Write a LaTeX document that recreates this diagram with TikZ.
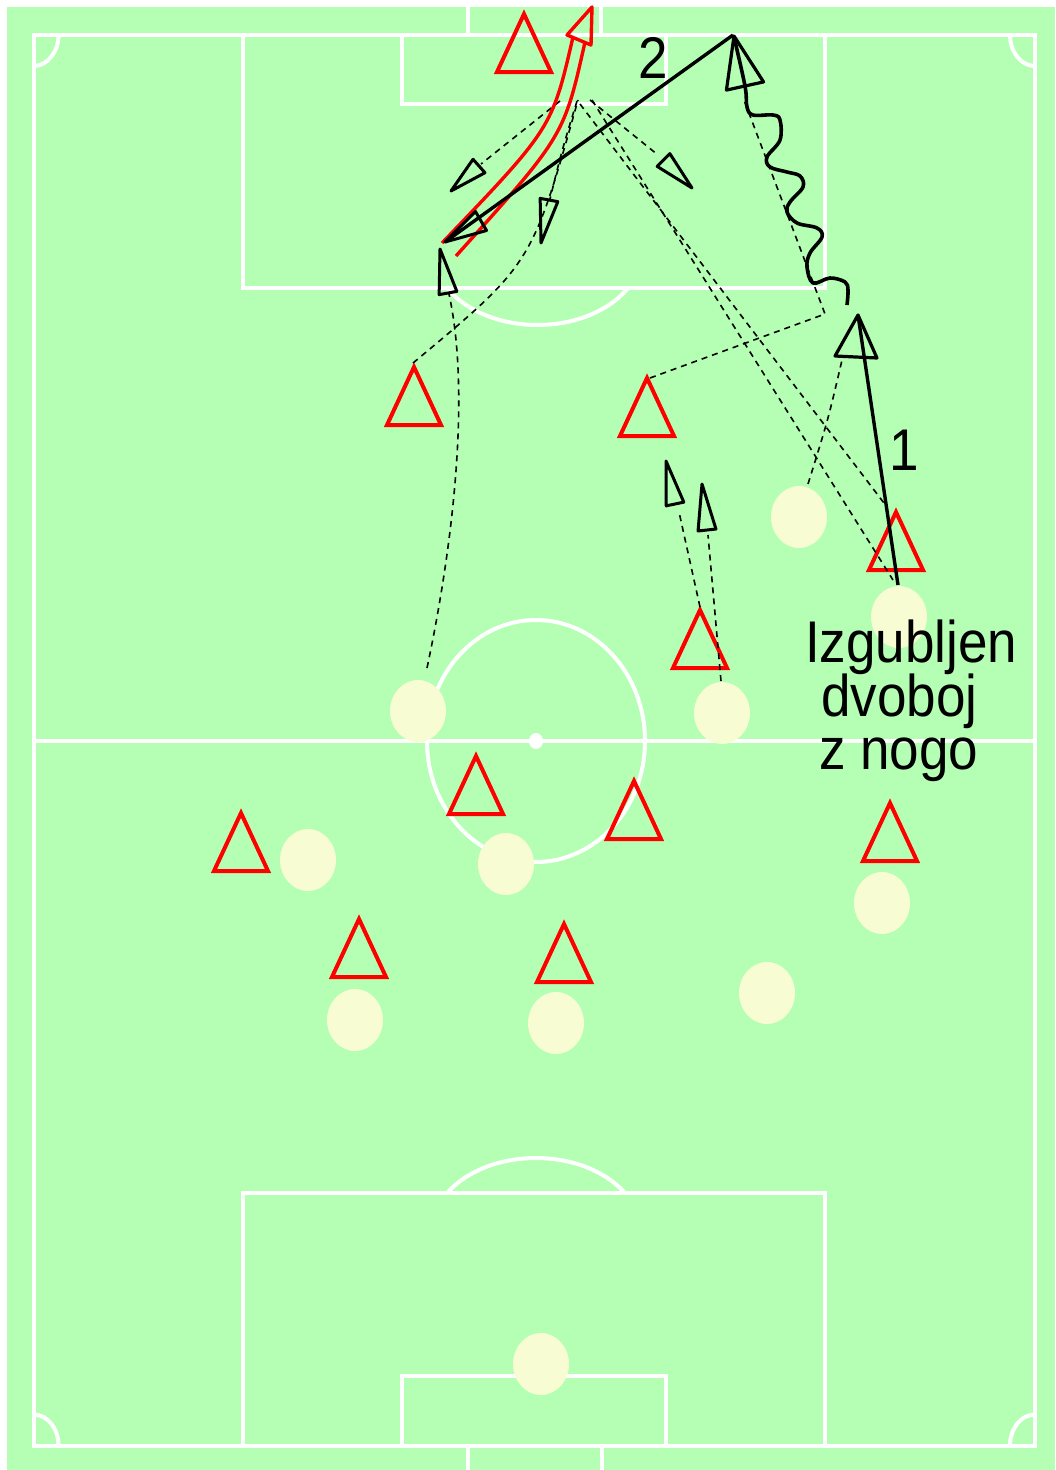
\documentclass[tikz,border=0pt]{standalone}
\usepackage{fontspec}
\setmainfont{Liberation Sans}
\usepackage{graphicx}
\usetikzlibrary{calc}
\definecolor{fieldgreen}{RGB}{180,255,180}
\definecolor{ballc}{RGB}{247,252,210}
\newcommand\openhead[4]{%
  \draw[#4] (#2) -- ($(#1)!#3!90:(#2)$) -- ($(#1)!#3!-90:(#2)$) -- cycle;}
\newcommand\redtri[3]{%
  \draw[redtri] (#1,#2) -- ++(27,58) -- ++(-54,0) -- cycle;
  \coordinate (#3) at (#1,#2+29);}
\newcommand\ball[3]{%
  \fill[ballc] (#1,#2) ellipse [x radius=28pt, y radius=31pt];
  \coordinate (#3) at (#1,#2);}
\tikzset{
  fieldline/.style={white, line width=4pt},
  redtri/.style={draw=red, line width=4pt, line join=miter},
  runline/.style={black, line width=1.6pt, dash pattern=on 6pt off 5pt},
  headstyle/.style={black, line width=3pt, line join=round},
  bigheadstyle/.style={black, line width=3.2pt, line join=round},
  passline/.style={black, line width=3.4pt},
  shotline/.style={red, line width=3.4pt},
  shothead/.style={red, line width=3.4pt, line join=round},
  dribble/.style={black, line width=3.6pt, line join=round},
  lbl/.style={inner sep=0pt, font=\fontsize{53}{53}\selectfont, text=black}
}
\begin{document}
\begin{tikzpicture}[x=1pt, y=-1pt]
\useasboundingbox (0,0) rectangle (1055,1470);
\fill[white] (0,0) rectangle (1055,1470);
\fill[fieldgreen] (7,7) rectangle (1055,1470);

% ---- field markings ----
\draw[fieldline] (33.5,35) rectangle (1035,1445.5);
\draw[fieldline] (33.5,741) -- (1035,741);
\draw[fieldline] (536,741) ellipse [x radius=109pt, y radius=121pt];
\fill[white] (536,741) ellipse [x radius=7pt, y radius=8pt];
% top
\draw[fieldline] (243,35) -- (243,288) -- (825,288) -- (825,35);
\draw[fieldline] (402,35) -- (402,103.5) -- (666,103.5) -- (666,35);
\draw[fieldline] (468,7) -- (468,35);
\draw[fieldline] (601,7) -- (601,35);
\begin{scope}
  \clip (0,288) rectangle (1055,400);
  \draw[fieldline] (537.5,250) ellipse [x radius=105pt, y radius=75pt];
\end{scope}
% bottom
\draw[fieldline] (243,1445.5) -- (243,1193) -- (825,1193) -- (825,1445.5);
\draw[fieldline] (402,1445.5) -- (402,1376) -- (666,1376) -- (666,1445.5);
\draw[fieldline] (468,1445.5) -- (468,1470);
\draw[fieldline] (602,1445.5) -- (602,1470);
\begin{scope}
  \clip (0,1080) rectangle (1055,1193);
  \draw[fieldline] (536,1231) ellipse [x radius=104pt, y radius=73pt];
\end{scope}
% corners
\begin{scope}
  \clip (33.5,35) rectangle (1035,1445.5);
  \draw[fieldline] (33.5,35) ellipse [x radius=25pt, y radius=31pt];
  \draw[fieldline] (1035,35) ellipse [x radius=25pt, y radius=31pt];
  \draw[fieldline] (33.5,1445.5) ellipse [x radius=25pt, y radius=31pt];
  \draw[fieldline] (1035,1445.5) ellipse [x radius=25pt, y radius=31pt];
\end{scope}

% ---- yellow players ----
\ball{799}{517}{b1}
\ball{899}{617}{b2}
\ball{418}{711}{b3}
\ball{722}{713}{b4}
\ball{308}{860}{b5}
\ball{506}{864}{b6}
\ball{882}{903}{b7}
\ball{767}{993}{b8}
\ball{355}{1020}{b9}
\ball{556}{1023}{b10}
\ball{541}{1364}{b11}

% ---- red players ----
\redtri{524}{14}{r1}
\redtri{414}{367}{r2}
\redtri{647}{378}{r3}
\redtri{896}{512}{r4}
\redtri{700}{610}{r5}
\redtri{476}{756}{r6}
\redtri{634}{781}{r7}
\redtri{241}{813}{r8}
\redtri{890}{803}{r9}
\redtri{359}{919}{r10}
\redtri{564}{924}{r11}

% ---- dashed runs ----
\coordinate (fanA) at (560,101);
\coordinate (fanB) at (577,101);
\coordinate (fanC) at (590,100);
\draw[runline] (fanA) -- (481,164);
\openhead{479,166}{451,191}{9pt}{headstyle}
\draw[runline] (fanB) .. controls (562,150) .. (550,199);
\openhead{549,200}{541,243}{9pt}{headstyle}
\draw[runline] (fanC) -- (658,155);
\openhead{663.5,160}{692,188}{9pt}{headstyle}
\draw[runline] (592,100) -- (893,580);
\draw[runline] (580,104) -- (887,507);
\draw[runline] (413,363) .. controls (532,264) .. (578,100);
\draw[runline] (427,668) .. controls (450,560) and (472,400) .. (449,294);
\openhead{448,293}{440,249}{9pt}{headstyle}
\draw[runline] (650,378) -- (825,314) -- (744,100);
\draw[runline] (808,484) .. controls (828,420) .. (842,360);
\draw[runline] (700,607) -- (679,512);
\openhead{675,504}{666,461}{9pt}{headstyle}
\draw[runline] (721,681) -- (708,535);
\openhead{707,530}{702,484}{9pt}{headstyle}

% ---- red shot (double line) ----
\draw[shotline] (442,243) .. controls (552,128) .. (573,37);
\draw[shotline] (456,256) .. controls (564,136) .. (585,42);
\draw[shothead] (592,7) -- (591,45) -- (567,35) -- cycle;

% ---- solid pass 1 ----
\coordinate (p1s) at (898,585);
\coordinate (p1e) at (858,315);
\draw[passline] (p1s) -- (p1e);
\openhead{856,357}{858,315}{21pt}{bigheadstyle}

% ---- dribble ----
\draw[dribble] plot[smooth, tension=0.6] coordinates {(847,305) (848,290) (845,282) (830,278) (813,283) (807,267) (810,253) (822,237) (817,228) (797,223) (787,212) (790,202) (803,187) (800,176) (787,172) (770,167) (767,157) (780,140) (780,120) (773,115) (753,115) (747,107) (745,86) (734,37)};
\openhead{745,86}{734,36}{19pt}{bigheadstyle}

% ---- solid pass 2 ----
\coordinate (p2s) at (733,35);
\coordinate (p2e) at (445,242);
\draw[passline] (p2s) -- (p2e);
\openhead{481,221}{445,242}{11pt}{headstyle}

% ---- labels ----
\node[lbl, anchor=base west] (n1) at (889,470) {\scalebox{1}[1.11]{1}};
\node[lbl, anchor=base west] (n2) at (638,78) {\scalebox{1}[1.11]{2}};
\node[lbl, anchor=base west] (t1) at (805,662) {\scalebox{1}[1.11]{Izgubljen}};
\node[lbl, anchor=base west] (t2) at (821,716) {\scalebox{1}[1.11]{dvoboj}};
\node[lbl, anchor=base west] (t3) at (819,769) {\scalebox{1}[1.11]{z nogo}};
\end{tikzpicture}
\end{document}
